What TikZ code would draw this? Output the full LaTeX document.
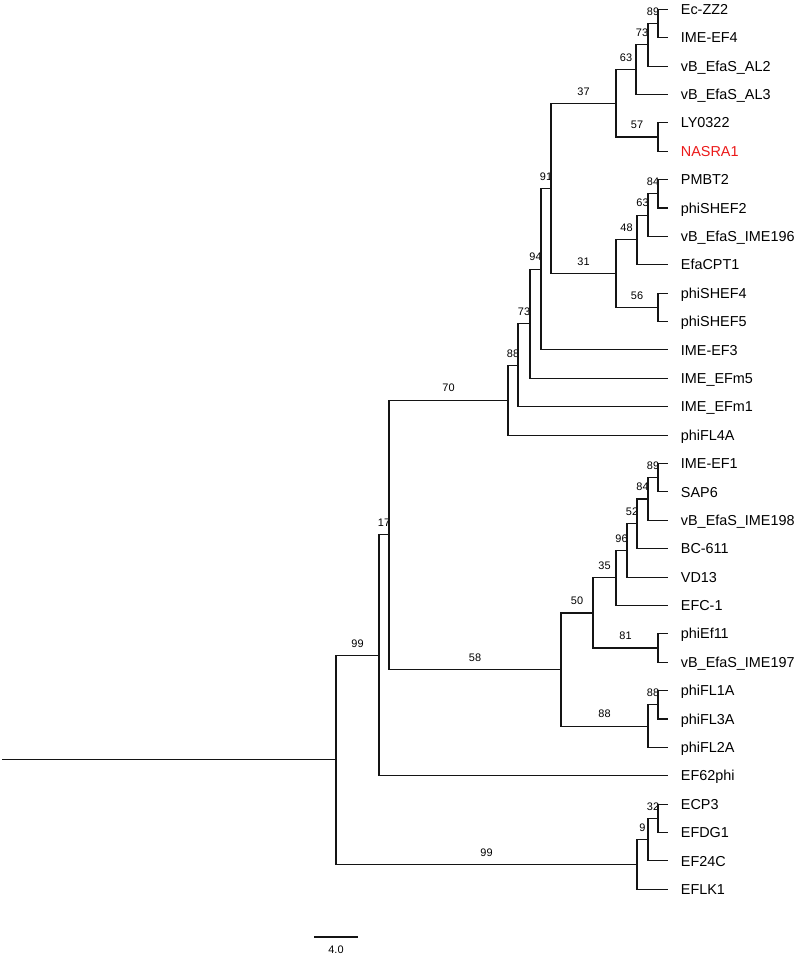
\documentclass[tikz,border=0pt]{standalone}
\usepackage{fontspec}
\setmainfont{Liberation Sans}
\setsansfont{Liberation Sans}
\definecolor{inkcol}{RGB}{20,20,20}
\definecolor{nasracol}{RGB}{235,25,25}
\tikzset{
  leaf/.style={anchor=west, inner xsep=9.3pt, inner ysep=0pt,
    text height=7.7pt, text depth=0pt, font=\fontsize{10.8}{12}\selectfont},
  blabel/.style={pos=0.75, anchor=base, yshift=6.2pt, inner sep=0pt,
    font=\fontsize{8.2}{9}\selectfont}
}

\begin{document}
\begin{tikzpicture}[
    x=0.75pt, y=-0.75pt,
    line width=0.8pt,
    draw=inkcol
  ]
  \useasboundingbox (0,0) rectangle (796,957);

  % --- leaves (tip of branch = west anchor) -------------------------------
  \node[leaf] (EcZZ2)    at (668,9.3)    {Ec-ZZ2};
  \node[leaf] (IMEEF4)   at (668,37.69)  {IME-EF4};
  \node[leaf] (AL2)      at (668,66.07)  {vB\_EfaS\_AL2};
  \node[leaf] (AL3)      at (668,94.46)  {vB\_EfaS\_AL3};
  \node[leaf] (LY0322)   at (668,122.85) {LY0322};
  \node[leaf, text=nasracol] (NASRA1) at (668,151.24) {NASRA1};
  \node[leaf] (PMBT2)    at (668,179.62) {PMBT2};
  \node[leaf] (SHEF2)    at (668,208.01) {phiSHEF2};
  \node[leaf] (IME196)   at (668,236.40) {vB\_EfaS\_IME196};
  \node[leaf] (CPT1)     at (668,264.78) {EfaCPT1};
  \node[leaf] (SHEF4)    at (668,293.17) {phiSHEF4};
  \node[leaf] (SHEF5)    at (668,321.56) {phiSHEF5};
  \node[leaf] (IMEEF3)   at (668,349.94) {IME-EF3};
  \node[leaf] (EFm5)     at (668,378.33) {IME\_EFm5};
  \node[leaf] (EFm1)     at (668,406.72) {IME\_EFm1};
  \node[leaf] (FL4A)     at (668,435.11) {phiFL4A};
  \node[leaf] (IMEEF1)   at (668,463.49) {IME-EF1};
  \node[leaf] (SAP6)     at (668,491.88) {SAP6};
  \node[leaf] (IME198)   at (668,520.27) {vB\_EfaS\_IME198};
  \node[leaf] (BC611)    at (668,548.65) {BC-611};
  \node[leaf] (VD13)     at (668,577.04) {VD13};
  \node[leaf] (EFC1)     at (668,605.43) {EFC-1};
  \node[leaf] (Ef11)     at (668,633.81) {phiEf11};
  \node[leaf] (IME197)   at (668,662.20) {vB\_EfaS\_IME197};
  \node[leaf] (FL1A)     at (668,690.59) {phiFL1A};
  \node[leaf] (FL3A)     at (668,718.98) {phiFL3A};
  \node[leaf] (FL2A)     at (668,747.36) {phiFL2A};
  \node[leaf] (EF62phi)  at (668,775.75) {EF62phi};
  \node[leaf] (ECP3)     at (668,804.14) {ECP3};
  \node[leaf] (EFDG1)    at (668,832.52) {EFDG1};
  \node[leaf] (EF24C)    at (668,860.91) {EF24C};
  \node[leaf] (EFLK1)    at (668,889.30) {EFLK1};

  % --- internal nodes ----------------------------------------------------
  \coordinate (PairZZ2)     at (658,23.5);
  \coordinate (CladeAL2)    at (648,44.8);
  \coordinate (CladeAL3)    at (636,69.6);
  \coordinate (PairLY)      at (658,137.0);
  \coordinate (CladeNASRA)  at (616,103.3);
  \coordinate (PairPMBT)    at (658,193.8);
  \coordinate (CladeIME196) at (648,215.1);
  \coordinate (CladeCPT1)   at (637,239.9);
  \coordinate (PairSHEF)    at (658,307.4);
  \coordinate (CladeSHEF)   at (616,273.7);
  \coordinate (CladeTop)    at (551,188.5);
  \coordinate (CladeEF3)    at (541,269.2);
  \coordinate (CladeEFm5)   at (530,323.8);
  \coordinate (CladeEFm1)   at (518,365.3);
  \coordinate (CladeFL4A)   at (508,400.2);
  \coordinate (PairSAP)     at (658,477.7);
  \coordinate (CladeIME198) at (648,499.0);
  \coordinate (CladeBC)     at (637,523.8);
  \coordinate (CladeVD)     at (627,550.4);
  \coordinate (CladeEFC)    at (616,577.9);
  \coordinate (PairEf11)    at (658,648.0);
  \coordinate (CladeMid)    at (593,613.0);
  \coordinate (PairFL)      at (658,704.8);
  \coordinate (CladeFL)     at (648,726.1);
  \coordinate (CladeLower)  at (561,669.6);
  \coordinate (CladeMain)   at (389,534.9);
  \coordinate (CladeEF62)   at (379,655.3);
  \coordinate (PairECP)     at (658,818.3);
  \coordinate (CladeEF24)   at (648,839.6);
  \coordinate (CladeEFLK)   at (637,864.5);
  \coordinate (Root)        at (336,759.9);
  \coordinate (RootStart)   at (2,759.9);

  % --- root --------------------------------------------------------------
  \draw (RootStart) -- (Root);
  \draw (Root) |- (CladeEF62) node[blabel] {99};
  \draw (Root) |- (CladeEFLK) node[blabel] {99};

  % --- upper part of the tree ---------------------------------------------
  \draw (CladeEF62) |- (CladeMain) node[blabel] {17};
  \draw (CladeEF62) |- (EF62phi.west);
  \draw (CladeMain) |- (CladeFL4A) node[blabel] {70};
  \draw (CladeMain) |- (CladeLower) node[blabel] {58};

  \draw (CladeFL4A) |- (CladeEFm1) node[blabel] {88};
  \draw (CladeFL4A) |- (FL4A.west);
  \draw (CladeEFm1) |- (CladeEFm5) node[blabel] {73};
  \draw (CladeEFm1) |- (EFm1.west);
  \draw (CladeEFm5) |- (CladeEF3) node[blabel] {94};
  \draw (CladeEFm5) |- (EFm5.west);
  \draw (CladeEF3) |- (CladeTop) node[blabel] {91};
  \draw (CladeEF3) |- (IMEEF3.west);
  \draw (CladeTop) |- (CladeNASRA) node[blabel] {37};
  \draw (CladeTop) |- (CladeSHEF) node[blabel] {31};

  \draw (CladeNASRA) |- (CladeAL3) node[blabel] {63};
  \draw (CladeNASRA) |- (PairLY) node[blabel] {57};
  \draw (CladeAL3) |- (CladeAL2) node[blabel] {73};
  \draw (CladeAL3) |- (AL3.west);
  \draw (CladeAL2) |- (PairZZ2) node[blabel] {89};
  \draw (CladeAL2) |- (AL2.west);
  \draw (PairZZ2) |- (EcZZ2.west);
  \draw (PairZZ2) |- (IMEEF4.west);
  \draw (PairLY) |- (LY0322.west);
  \draw (PairLY) |- (NASRA1.west);

  \draw (CladeSHEF) |- (CladeCPT1) node[blabel] {48};
  \draw (CladeSHEF) |- (PairSHEF) node[blabel] {56};
  \draw (CladeCPT1) |- (CladeIME196) node[blabel] {63};
  \draw (CladeCPT1) |- (CPT1.west);
  \draw (CladeIME196) |- (PairPMBT) node[blabel] {84};
  \draw (CladeIME196) |- (IME196.west);
  \draw (PairPMBT) |- (PMBT2.west);
  \draw (PairPMBT) |- (SHEF2.west);
  \draw (PairSHEF) |- (SHEF4.west);
  \draw (PairSHEF) |- (SHEF5.west);

  % --- lower part of the tree ---------------------------------------------
  \draw (CladeLower) |- (CladeMid) node[blabel] {50};
  \draw (CladeLower) |- (CladeFL) node[blabel] {88};
  \draw (CladeMid) |- (CladeEFC) node[blabel] {35};
  \draw (CladeMid) |- (PairEf11) node[blabel] {81};
  \draw (CladeEFC) |- (CladeVD) node[blabel] {96};
  \draw (CladeEFC) |- (EFC1.west);
  \draw (CladeVD) |- (CladeBC) node[blabel] {52};
  \draw (CladeVD) |- (VD13.west);
  \draw (CladeBC) |- (CladeIME198) node[blabel] {84};
  \draw (CladeBC) |- (BC611.west);
  \draw (CladeIME198) |- (PairSAP) node[blabel] {89};
  \draw (CladeIME198) |- (IME198.west);
  \draw (PairSAP) |- (IMEEF1.west);
  \draw (PairSAP) |- (SAP6.west);
  \draw (PairEf11) |- (Ef11.west);
  \draw (PairEf11) |- (IME197.west);
  \draw (CladeFL) |- (PairFL) node[blabel] {88};
  \draw (CladeFL) |- (FL2A.west);
  \draw (PairFL) |- (FL1A.west);
  \draw (PairFL) |- (FL3A.west);

  \draw (CladeEFLK) |- (CladeEF24) node[blabel] {9};
  \draw (CladeEFLK) |- (EFLK1.west);
  \draw (CladeEF24) |- (PairECP) node[blabel] {32};
  \draw (CladeEF24) |- (EF24C.west);
  \draw (PairECP) |- (ECP3.west);
  \draw (PairECP) |- (EFDG1.west);

  % --- scale bar -----------------------------------------------------------
  \coordinate (ScaleL) at (314,937);
  \coordinate (ScaleR) at (358,937);
  \draw (ScaleL) -- (ScaleR)
    node[midway, anchor=base, yshift=-12.6pt, inner sep=0pt,
         font=\fontsize{8.2}{9}\selectfont] {4.0};

\end{tikzpicture}
\end{document}
